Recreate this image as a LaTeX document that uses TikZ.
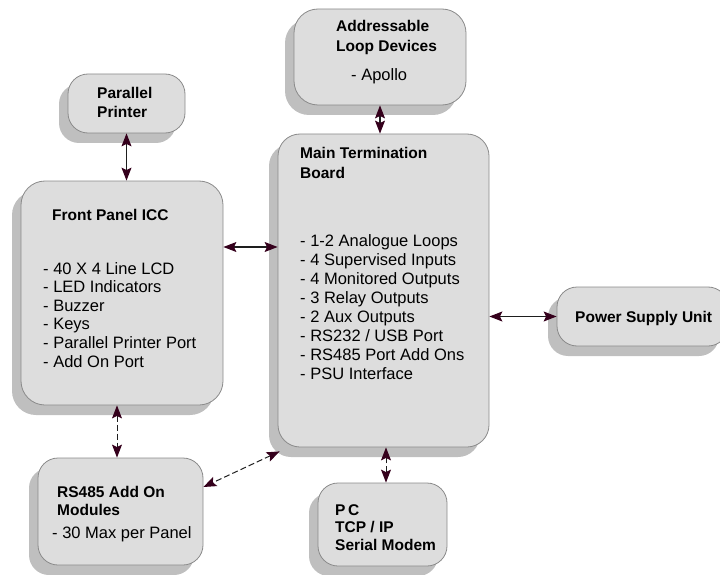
\documentclass[tikz,border=0pt]{standalone}
\usepackage{fontspec}
\setmainfont{Liberation Sans}
\usetikzlibrary{shadows,arrows.meta}
\definecolor{boxfill}{HTML}{DDDDDD}
\definecolor{boxline}{HTML}{8A8A8A}
\definecolor{shadowc}{HTML}{BFBFBF}
\definecolor{tipc}{HTML}{35001C}
\definecolor{linec}{HTML}{1E1E1E}
\tikzset{
  box/.style={draw=boxline, line width=0.8pt, fill=boxfill, rounded corners=20pt, inner sep=0pt,
    drop shadow={shadow xshift=-9pt, shadow yshift=-10pt, fill=shadowc, opacity=1}},
  ttl/.style={anchor=base west, inner sep=0pt, font=\fontsize{15.5}{18}\selectfont\bfseries},
  txt/.style={anchor=base west, inner sep=0pt, font=\fontsize{16.5}{19}\selectfont},
  conn/.style={draw=linec, line width=1.1pt, {Stealth[length=13pt,width=10pt,inset=2.5pt,color=tipc]}-{Stealth[length=13pt,width=10pt,inset=2.5pt,color=tipc]}},
  dconn/.style={conn, line width=1pt, dash pattern=on 6pt off 3pt}
}
\begin{document}
\begin{tikzpicture}[x=1pt,y=-1pt]
\useasboundingbox (0,0) rectangle (720,575);
% boxes
\node[box, rounded corners=24pt, minimum width=172pt, minimum height=96pt] (addr) at (380,57) {};
\node[box, minimum width=117pt, minimum height=59pt] (printer) at (126.5,103.5) {};
\node[box, rounded corners=24pt, minimum width=202pt, minimum height=224pt] (front) at (122,293) {};
\node[box, rounded corners=22pt, minimum width=211pt, minimum height=313pt] (main) at (383.5,290.5) {};
\node[box, minimum width=171pt, minimum height=59pt] (psu) at (642.5,316.5) {};
\node[box, minimum width=165pt, minimum height=107pt] (rs) at (120.5,511.5) {};
\node[box, minimum width=129pt, minimum height=83pt] (pc) at (382.5,524.5) {};
% texts
\node[ttl] (addrt1) at (336,32) {Addressable};
\node[ttl] (addrt2) at (336,52) {Loop Devices};
\node[txt] (addrb1) at (351,81) {- Apollo};
\node[ttl] (prt1) at (97,99) {Parallel};
\node[ttl] (prt2) at (97,118) {Printer};
\node[ttl] (frt1) at (52,220) {Front Panel ICC};
\foreach \t [count=\i from 0] in {- 40 X 4 Line LCD,- LED Indicators,- Buzzer,- Keys,- Parallel Printer Port,- Add On Port}
  \node[txt] (frb\i) at (43,274+18.6*\i) {\t};
\node[ttl] (mnt1) at (300,158) {Main Termination};
\node[ttl] (mnt2) at (300,178) {Board};
\foreach \t [count=\i from 0] in {- 1-2 Analogue Loops,- 4 Supervised Inputs,- 4 Monitored Outputs,- 3 Relay Outputs,- 2 Aux Outputs,- RS232 / USB Port,- RS485 Port Add Ons,- PSU Interface}
  \node[txt] (mnb\i) at (300,246+19.1*\i) {\t};
\node[ttl] (psut) at (575,322) {Power Supply Unit};
\node[ttl] (rst1) at (57,497) {RS485 Add On};
\node[ttl] (rst2) at (57,515) {Modules};
\node[txt] (rsb1) at (52,538) {- 30 Max per Panel};
\node[ttl] (pct1) at (335,515) {P\,C};
\node[ttl] (pct2) at (335,532.5) {TCP / IP};
\node[ttl] (pct3) at (335,550) {Serial Modem};
% connectors
\draw[conn] (addr.south) -- (addr.south |- main.north);
\draw[conn] (printer.south) -- (printer.south |- front.north);
\draw[conn] ([yshift=46pt]front.east) -- ([yshift=46pt]front.east -| main.west);
\draw[conn] (psu.west -| main.east) -- (psu.west);
\draw[dconn] ([xshift=-5pt]front.south) -- ([xshift=-5pt]front.south |- rs.north);
\draw[dconn] ([shift={(2pt,-4pt)}]main.south west) -- ([yshift=24.5pt]rs.east);
\draw[dconn] ([xshift=3.5pt]pc.north) -- ([xshift=3.5pt]pc.north |- main.south);
\end{tikzpicture}
\end{document}
